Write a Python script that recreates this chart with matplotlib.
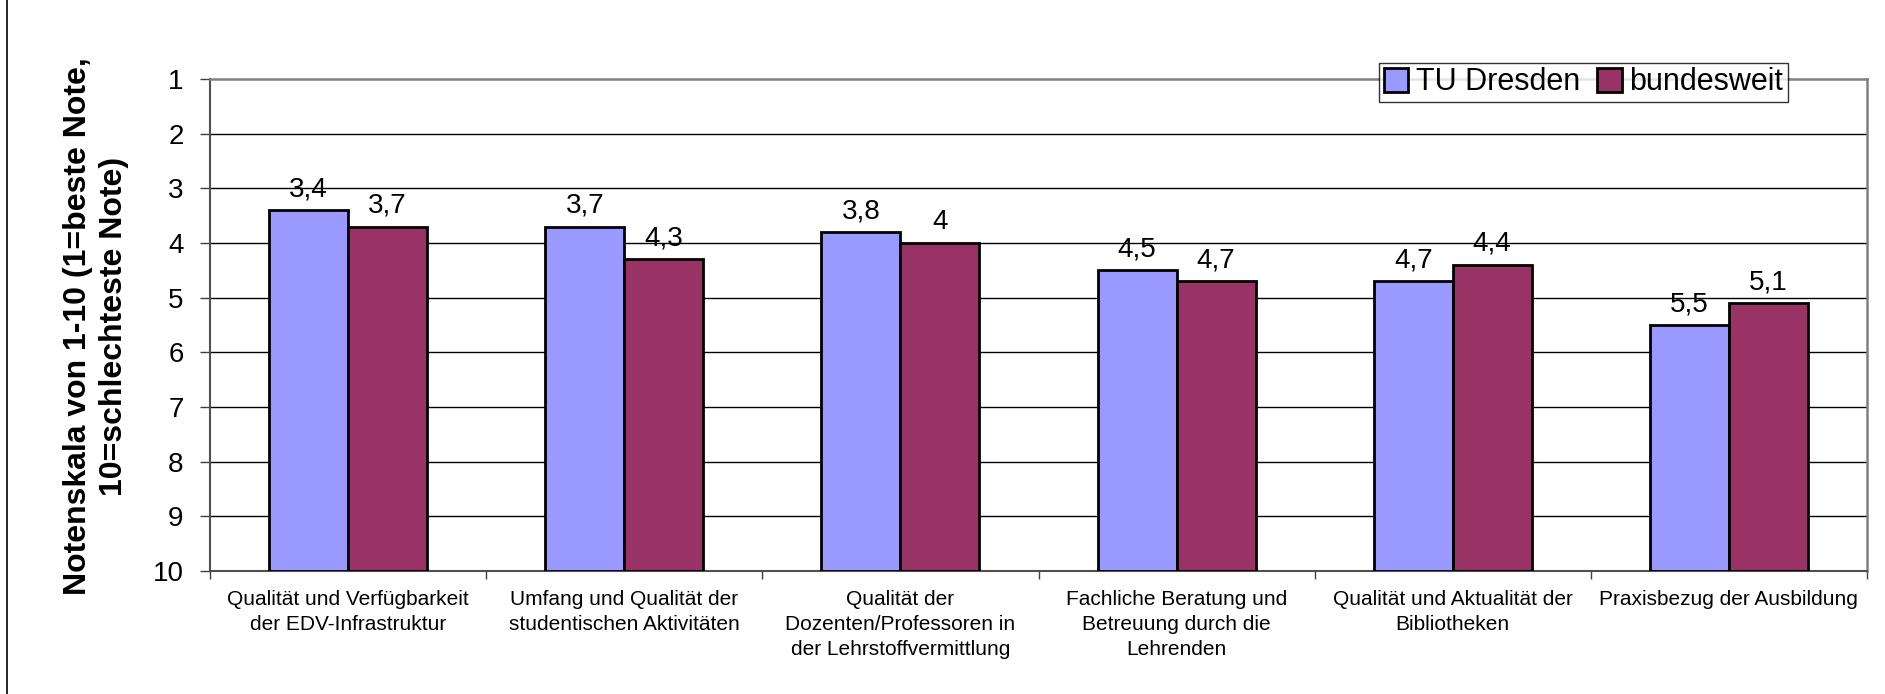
import numpy as np
import matplotlib
matplotlib.use("Agg")
import matplotlib.pyplot as plt
from matplotlib.lines import Line2D

# Daten
kategorien = [
    "Qualität und Verfügbarkeit\nder EDV-Infrastruktur",
    "Umfang und Qualität der\nstudentischen Aktivitäten",
    "Qualität der\nDozenten/Professoren in\nder Lehrstoffvermittlung",
    "Fachliche Beratung und\nBetreuung durch die\nLehrenden",
    "Qualität und Aktualität der\nBibliotheken",
    "Praxisbezug der Ausbildung",
]
tu_dresden = [3.4, 3.7, 3.8, 4.5, 4.7, 5.5]
bundesweit = [3.7, 4.3, 4.0, 4.7, 4.4, 5.1]
serien = ["TU Dresden", "bundesweit"]
farben = ["#9999FF", "#993366"]
y_ticks = [1, 2, 3, 4, 5, 6, 7, 8, 9, 10]


def fmt(v):
    # deutsche Schreibweise mit Komma
    return f"{v:g}".replace(".", ",")


plt.rcParams["font.family"] = ["Liberation Sans", "DejaVu Sans"]

W, H = 1885, 694
fig = plt.figure(figsize=(W / 100, H / 100), dpi=100)
links, rechts, oben, unten = 210, 1867, 79, 571
ax = fig.add_axes([links / W, 1 - unten / H, (rechts - links) / W, (unten - oben) / H])

x = np.arange(len(kategorien))
w = 0.286
basis = 10

for i, (werte, name, farbe) in enumerate(zip([tu_dresden, bundesweit], serien, farben)):
    pos = x + (i - 0.5) * w
    hoehe = np.array(werte) - basis
    ax.bar(pos, hoehe, bottom=basis, width=w, color=farbe, edgecolor="black",
           linewidth=2, label=name, zorder=3)
    for p, v in zip(pos, werte):
        ax.annotate(fmt(v), (p, v), xytext=(0, 10), textcoords="offset points",
                    ha="center", va="baseline", fontsize=20)

ax.set_ylim(10, 1)
ax.set_xlim(-0.5, len(kategorien) - 0.5)
ax.set_yticks(y_ticks)
ax.set_yticklabels([str(t) for t in y_ticks], fontsize=20)

# Gitterlinien (innen schwarz)
for t in y_ticks[1:-1]:
    ax.axhline(t, color="black", linewidth=1, zorder=1)

# x-Achse: Striche zwischen den Kategorien, Beschriftung mittig
ax.set_xticks(np.arange(-0.5, len(kategorien), 1.0))
ax.set_xticklabels([])
ax.set_xticks(x, minor=True)
ax.set_xticklabels(kategorien, minor=True, fontsize=15, linespacing=1.4)
ax.tick_params(axis="x", which="minor", length=0, pad=14)
ax.tick_params(axis="x", which="major", length=6, width=1, color="#404040")
ax.tick_params(axis="y", length=7, width=1, pad=12, color="#404040")

for s in ["top", "right"]:
    ax.spines[s].set_color("#808080")
    ax.spines[s].set_linewidth(1.8)
for s in ["left", "bottom"]:
    ax.spines[s].set_color("#505050")
    ax.spines[s].set_linewidth(1.5)

fig.text(96 / W, 1 - 326 / H, "Notenskala von 1-10 (1=beste Note,\n10=schlechteste Note)",
         rotation=90, ha="center", va="center", fontsize=23, fontweight="bold",
         multialignment="center", linespacing=1.25)

leg = ax.legend(loc="center", bbox_to_anchor=(1583.5 / W, 1 - 82.5 / H),
                bbox_transform=fig.transFigure, ncol=2, fontsize=22, frameon=True,
                fancybox=False, borderpad=0.15, handlelength=0.8, handleheight=0.8,
                handletextpad=0.25, columnspacing=0.55, borderaxespad=0)
leg.get_frame().set_edgecolor("black")
leg.get_frame().set_linewidth(1)
leg.set_zorder(5)

# Rahmenlinie links
fig.add_artist(Line2D([7 / W, 7 / W], [0, 1], color="black", linewidth=1.2))

fig.savefig("out.png", dpi=100, facecolor="white")
